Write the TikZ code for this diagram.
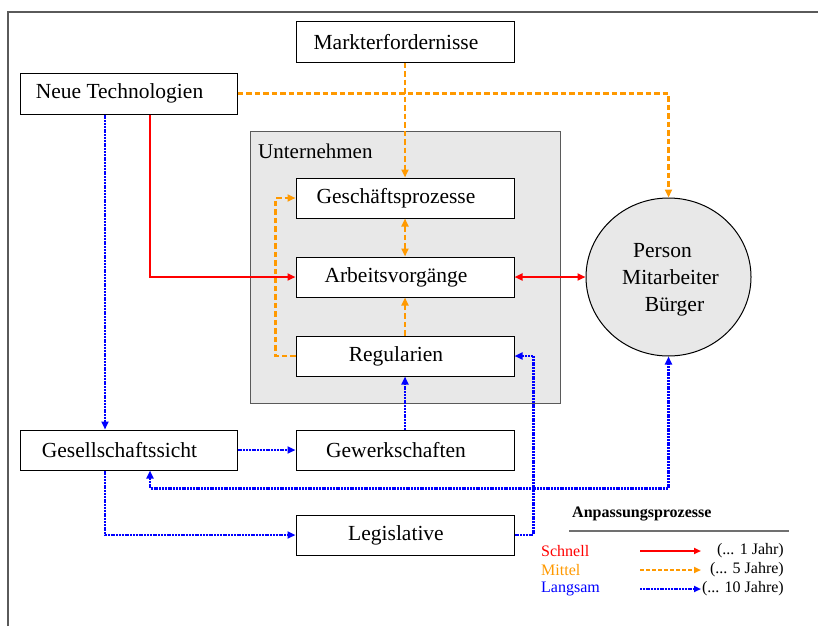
\documentclass[tikz,border=0pt]{standalone}
\usepackage{fontspec}
\setmainfont{Liberation Serif}
\usetikzlibrary{arrows.meta,shapes.geometric}
\definecolor{cred}{RGB}{255,0,0}
\definecolor{corange}{RGB}{255,153,0}
\definecolor{cblue}{RGB}{0,0,255}
\definecolor{cfill}{RGB}{232,232,232}
\definecolor{cframe}{RGB}{90,90,90}
\definecolor{cline}{RGB}{112,112,112}
\begin{document}
\begin{tikzpicture}[x=1pt,y=-1pt,
  box/.style={draw=black, line width=1pt, fill=white, minimum width=218pt,
    minimum height=40pt, inner sep=0pt, font=\fontsize{21.5}{25}\selectfont,
    execute at end node={\kern18pt}},
  tip/.style={-{Triangle[length=8pt,width=7pt]}},
  dtip/.style={{Triangle[length=8pt,width=7pt]}-{Triangle[length=8pt,width=7pt]}},
  fast/.style={draw=cred, line width=2.4pt},
  mid/.style={draw=corange, line width=2.4pt, dash pattern=on 5.5pt off 3pt},
  slow/.style={draw=cblue, line width=2.4pt, dash pattern=on 2pt off 0.8pt},
  legtxt/.style={font=\fontsize{16}{18}\selectfont, inner sep=0pt},
]
\useasboundingbox (0,0) rectangle (818,626);
% frame
\draw[cframe, line width=1.5pt] (8,626) -- (8,12) -- (818,12);
% company background
\node[draw=cframe, line width=1pt, fill=cfill, minimum width=310pt, minimum height=272pt, inner sep=0pt] (untbg) at (405,267) {};
\node[anchor=west, inner sep=0pt, font=\fontsize{21}{24}\selectfont] (unt) at (258,151) {Unternehmen};
% boxes
\node[box] (markt) at (405,42) {Markterfordernisse};
\node[box, minimum width=217pt, minimum height=41pt] (neue) at (128.5,93.5) {Neue Technologien};
\node[box] (gp) at (405,198) {Geschäftsprozesse};
\node[box] (av) at (405,277) {Arbeitsvorgänge};
\node[box] (reg) at (405,356) {Regularien};
\node[box, minimum width=217pt] (ges) at (128.5,450) {Gesellschaftssicht};
\node[box] (gew) at (405,450) {Gewerkschaften};
\node[box] (leg) at (405,535) {Legislative};
\node[ellipse, draw=black, line width=1pt, fill=cfill, minimum width=165pt, minimum height=158pt,
  inner sep=0pt, align=center, font=\fontsize{21.5}{27}\selectfont] (person) at (668.5,277)
  {\rule{0pt}{20pt}Person\rule{12pt}{0pt}\\\rule{4pt}{0pt}Mitarbeiter\\\rule{12pt}{0pt}Bürger};
% orange (mittel)
\draw[mid, tip] (markt.south) -- (gp.north);
\draw[mid, tip] (neue.east) -| (person.north);
\draw[mid, dtip] (gp.south) -- (av.north);
\draw[mid, tip] (reg.north) -- (av.south);
\draw[mid, tip] (reg.west) -- ++(-20,0) |- (gp.west);
% red (schnell)
\draw[fast, tip] ([xshift=21.5pt]neue.south) |- (av.west);
\draw[fast, dtip] (av.east) -- (person.west);
% blue (langsam)
\draw[slow, tip] ([xshift=-23.5pt]neue.south) -- ([xshift=-23.5pt]ges.north);
\draw[slow, tip] (ges.east) -- (gew.west);
\draw[slow, tip] (gew.north) -- (reg.south);
\draw[slow, dtip] ([xshift=21.5pt]ges.south) -- ++(0,18) -| (person.south);
\draw[slow, tip] ([xshift=-23.5pt]ges.south) |- (leg.west);
\draw[slow, tip] (leg.east) -- ++(19,0) |- (reg.east);
% legend
\node[anchor=west, inner sep=0pt, font=\bfseries\fontsize{16}{18}\selectfont] (legt) at (572,514) {Anpassungsprozesse};
\coordinate (lineA) at (569,531);
\coordinate (lineB) at (789,531);
\draw[cline, line width=2pt] (lineA) -- (lineB);
\node[legtxt, anchor=west, text=cred] (ls) at (541,551) {Schnell};
\node[legtxt, anchor=west, text=corange] (lm) at (541,570) {Mittel};
\node[legtxt, anchor=west, text=cblue] (ll) at (541,589) {Langsam};
\node[legtxt, anchor=east] (ys) at (784,551) {(... 1 Jahr)};
\node[legtxt, anchor=east] (ym) at (784,570) {(... 5 Jahre)};
\node[legtxt, anchor=east] (yl) at (784,589) {(... 10 Jahre)};
\coordinate (sa) at (640,551); \coordinate (sb) at (701,551);
\coordinate (ma) at (640,570); \coordinate (mb) at (701,570);
\coordinate (la) at (640,589); \coordinate (lb) at (701,589);
\draw[fast, line width=1.8pt, -{Triangle[length=7pt,width=6pt]}] (sa) -- (sb);
\draw[mid, line width=1.8pt, dash pattern=on 4pt off 2pt, -{Triangle[length=7pt,width=6pt]}] (ma) -- (mb);
\draw[slow, line width=1.8pt, -{Triangle[length=7pt,width=6pt]}] (la) -- (lb);
\end{tikzpicture}
\end{document}
